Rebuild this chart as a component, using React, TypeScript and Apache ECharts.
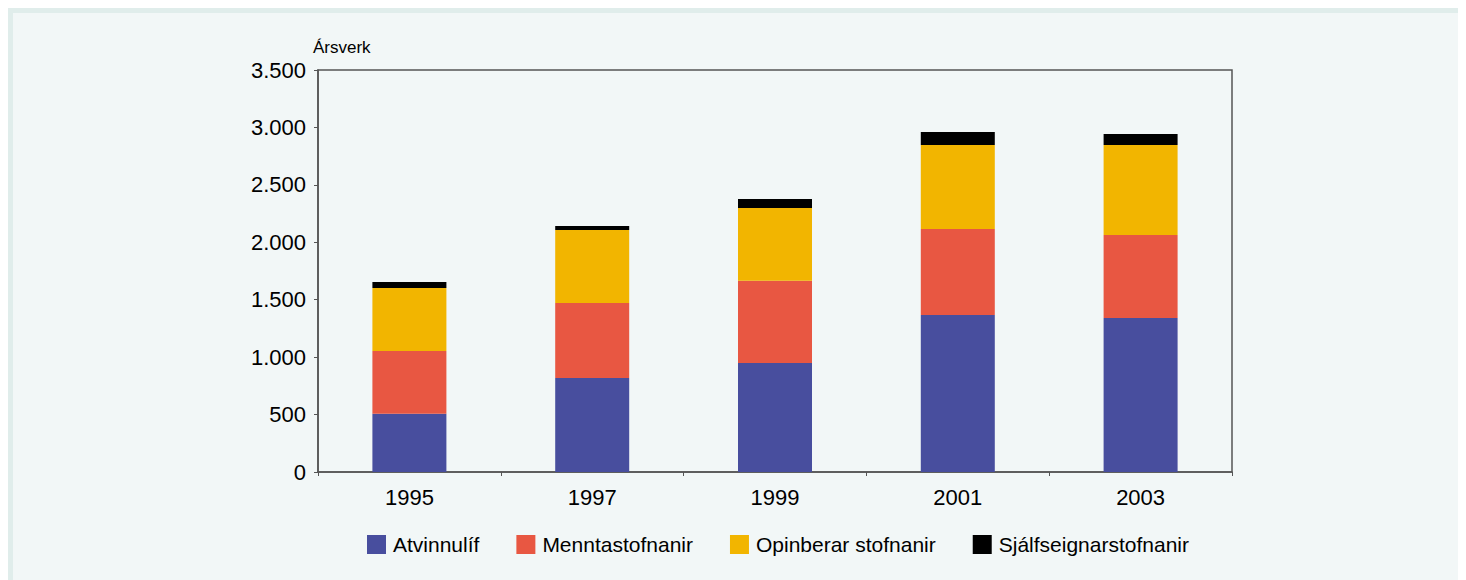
import React, { useEffect, useRef } from "react";
import * as echarts from "echarts";

const categories = ["1995", "1997", "1999", "2001", "2003"];
const seriesNames = ["Atvinnulíf", "Menntastofnanir", "Opinberar stofnanir", "Sjálfseignarstofnanir"];
const atvinnulif = [507, 818, 949, 1367, 1341];
const menntastofnanir = [546, 653, 717, 749, 722];
const opinberar = [549, 636, 632, 731, 784];
const sjalfseignar = [52, 35, 79, 113, 96];
const colors = ["#484e9e", "#e85742", "#f2b500", "#000000"];
const yTicks = { min: 0, max: 3500, interval: 500 };
const yTitle = "Ársverk";

const FONT = "'Liberation Sans', Arial, Helvetica, sans-serif";

export default function App() {
  const ref = useRef<HTMLDivElement>(null);
  useEffect(() => {
    if (!ref.current) return;
    const chart = echarts.init(ref.current, null, { renderer: "svg" });
    const values = [atvinnulif, menntastofnanir, opinberar, sjalfseignar];
    chart.setOption({
      animation: false,
      backgroundColor: "#f2f7f7",
      textStyle: { fontFamily: FONT },
      grid: {
        left: 305,
        top: 57,
        width: 914,
        height: 402,
        show: true,
        borderColor: "#555",
        borderWidth: 1.5,
        backgroundColor: "transparent",
      },
      graphic: [
        {
          type: "text",
          left: 300,
          top: 26,
          style: { text: yTitle, fontSize: 17, fill: "#000", fontFamily: FONT },
        },
      ],
      legend: {
        left: 349,
        top: 516,
        itemWidth: 19,
        itemHeight: 19,
        itemGap: 37,
        icon: "rect",
        textStyle: { fontSize: 21, color: "#000", fontFamily: FONT, padding: [0, 0, 0, 2] },
        data: seriesNames,
      },
      xAxis: {
        type: "category",
        data: categories,
        axisLine: { lineStyle: { color: "#555", width: 1.5 } },
        axisTick: { show: true, length: 4, lineStyle: { color: "#555" } },
        axisLabel: { fontSize: 22, color: "#000", margin: 14, fontFamily: FONT },
      },
      yAxis: {
        type: "value",
        min: yTicks.min,
        max: yTicks.max,
        interval: yTicks.interval,
        splitLine: { show: false },
        axisLine: { show: true, lineStyle: { color: "#555", width: 1.5 } },
        axisTick: { show: true, length: 4, lineStyle: { color: "#555" } },
        axisLabel: {
          fontSize: 22,
          color: "#000",
          margin: 12,
          fontFamily: FONT,
          formatter: (v: number) => String(v).replace(/\B(?=(\d{3})+(?!\d))/g, "."),
        },
      },
      series: seriesNames.map((name, i) => ({
        name,
        type: "bar",
        stack: "total",
        barWidth: 74,
        data: values[i],
        itemStyle: { color: colors[i] },
      })),
    });
    return () => chart.dispose();
  }, []);
  return (
    <div style={{ background: "#e0edeb", paddingTop: 5, paddingLeft: 5, width: 1453, height: 567 }}>
      <div ref={ref} style={{ width: 1453, height: 567 }} />
    </div>
  );
}
